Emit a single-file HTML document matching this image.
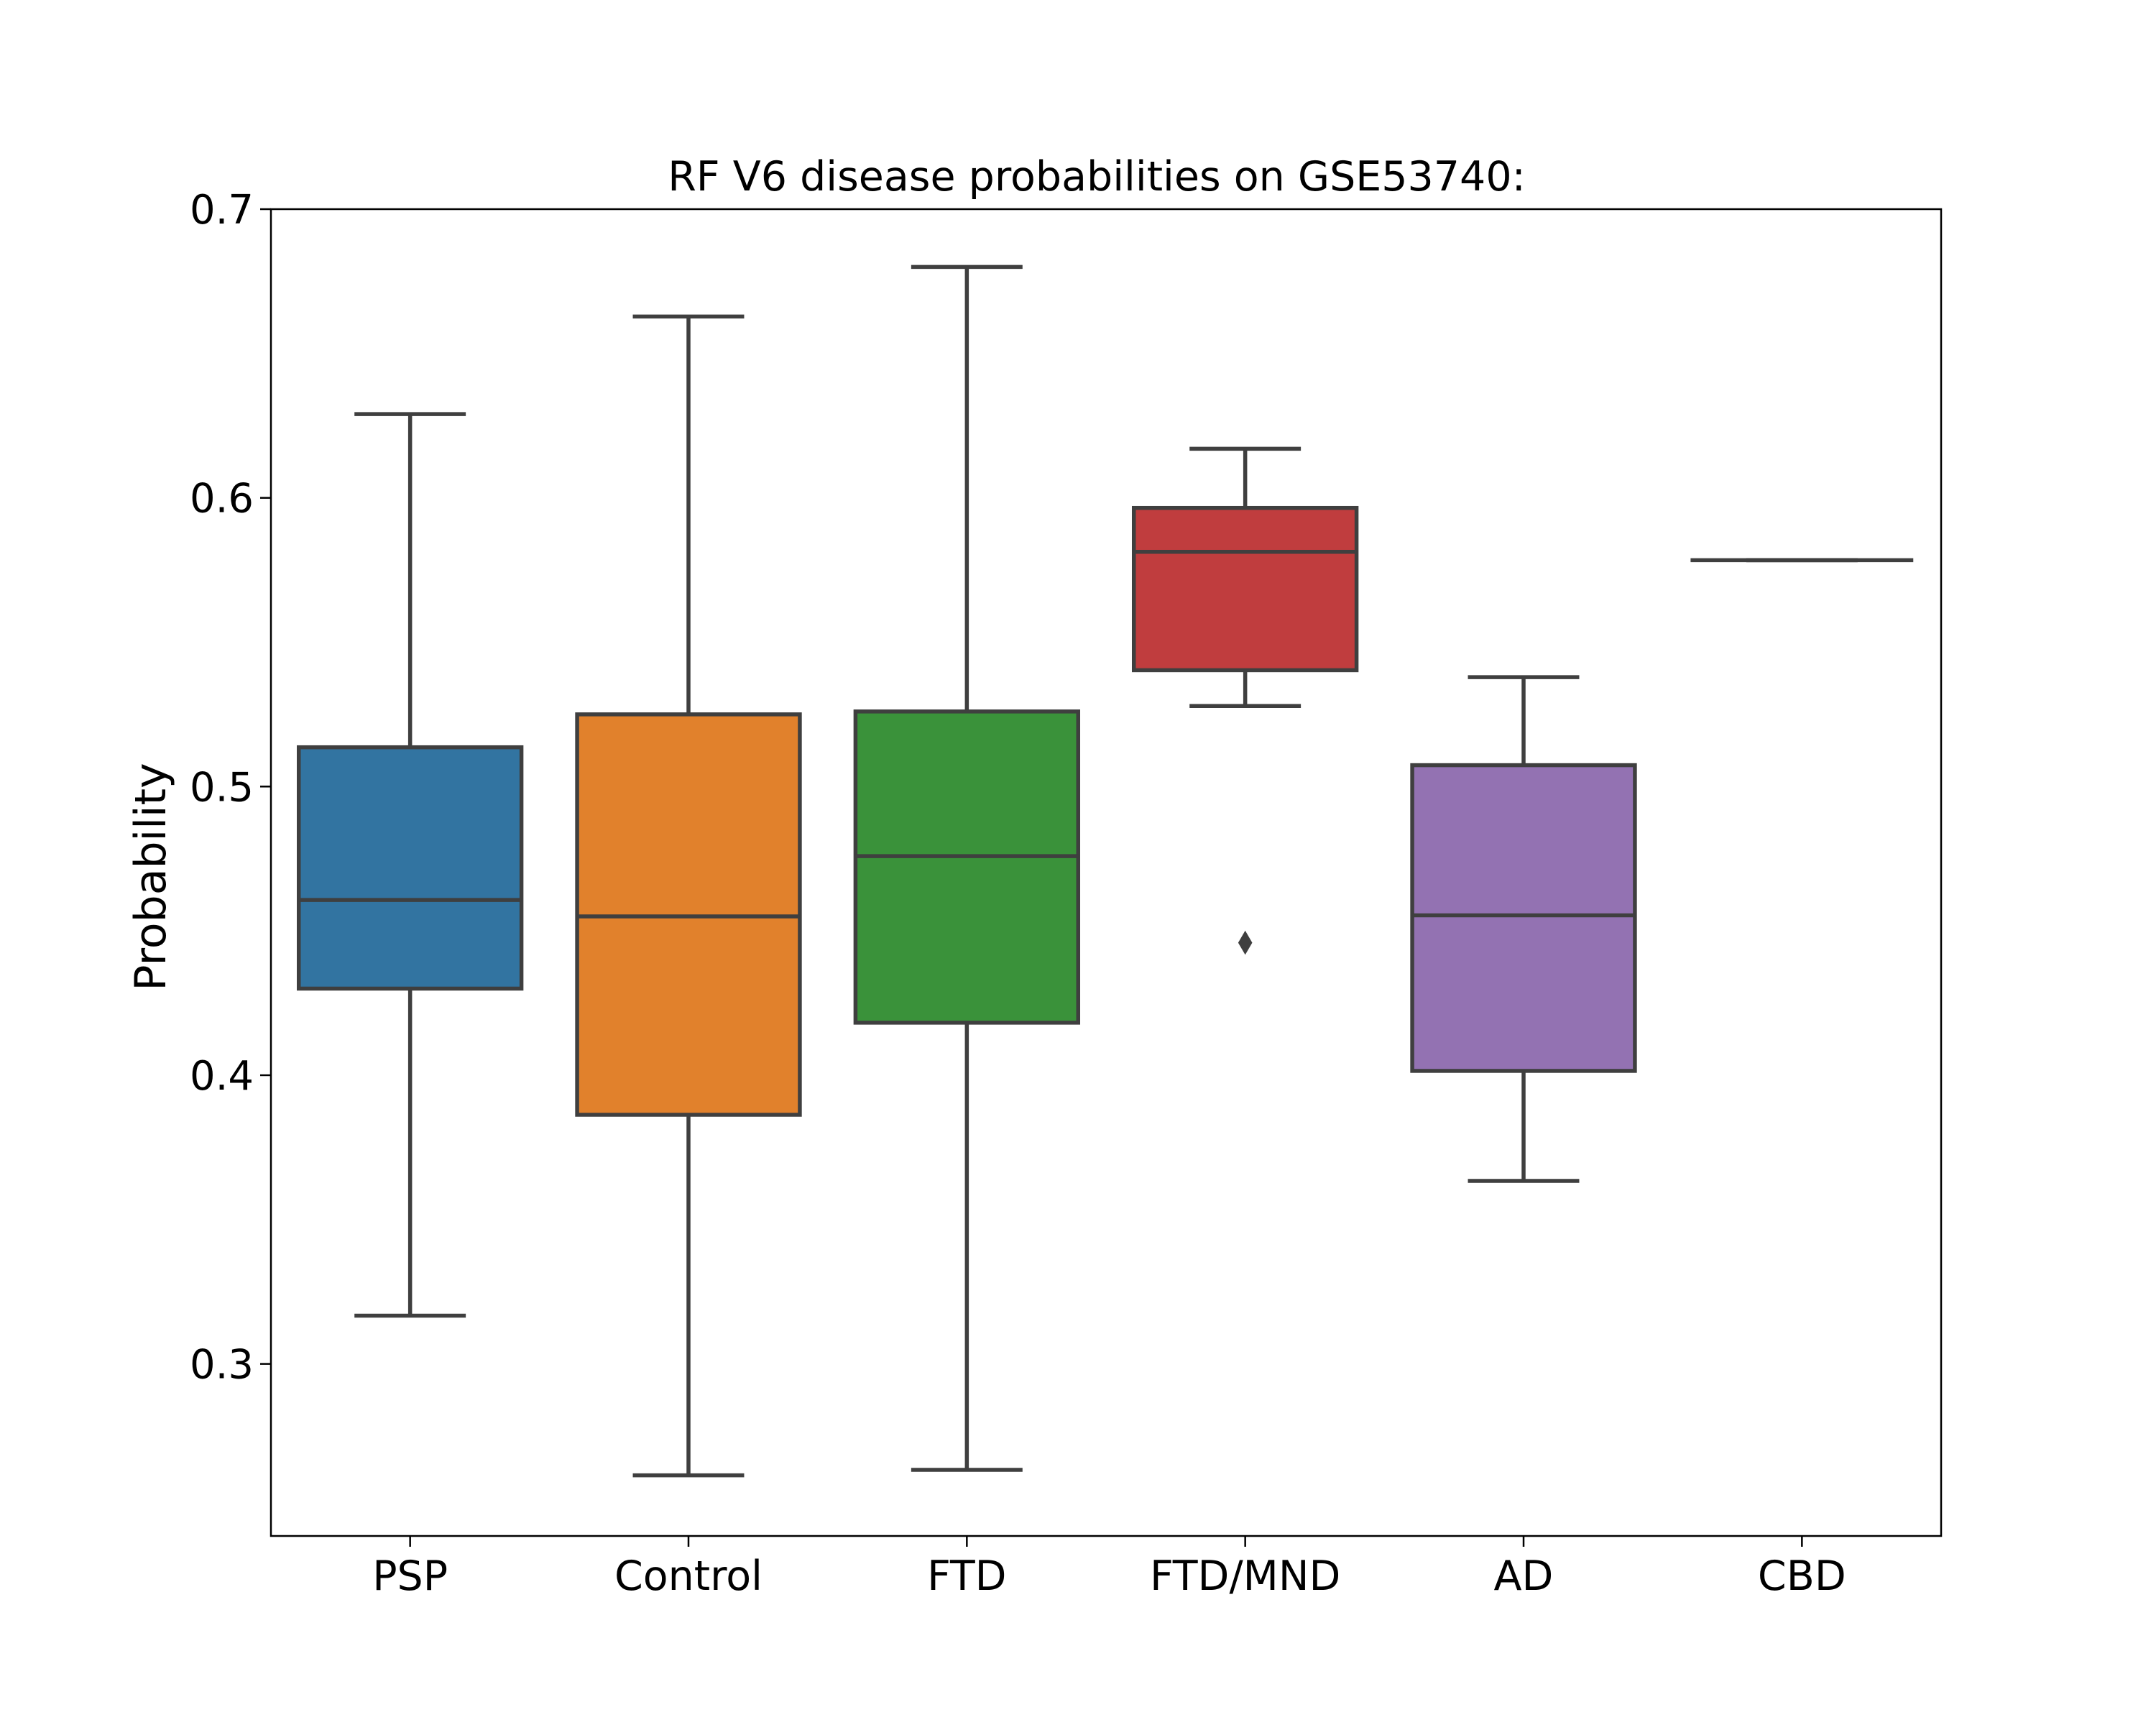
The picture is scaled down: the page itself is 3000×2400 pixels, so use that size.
<!DOCTYPE html>
<html><head><meta charset="utf-8"><style>
html,body{margin:0;padding:0;background:#fff}
svg{display:block}
text{font-family:"DejaVu Sans","Liberation Sans",sans-serif;fill:#000}
</style></head><body>
<svg id="chart" width="3000" height="2400" viewBox="0 0 3000 2400" xmlns="http://www.w3.org/2000/svg">
<rect x="0" y="0" width="3000" height="2400" fill="#fff"/>
<text x="1526" y="265" font-size="57" text-anchor="middle">RF V6 disease probabilities on GSE53740:</text>
<text transform="translate(230,1220) rotate(-90)" font-size="60" text-anchor="middle">Probability</text>
<g id="marks"></g>
<rect x="377" y="291" width="2324" height="1846" fill="none" stroke="#000" stroke-width="2.5"/>
</svg>
<script>
const categories = ["PSP","Control","FTD","FTD/MND","AD","CBD"];
const whiskerLow = [0.3167,0.2614,0.2633,0.5279,0.3634,0.5784];
const q1 = [0.430,0.3863,0.4182,0.5403,0.4015,0.5784];
const medians = [0.4607,0.455,0.4759,0.5813,0.4554,0.5784];
const q3 = [0.5136,0.525,0.526,0.5965,0.5074,0.5784];
const whiskerHigh = [0.629,0.6628,0.680,0.617,0.5379,0.5784];
const outliers = [[],[],[],[0.4459],[],[]];
const yTicks = [0.3,0.4,0.5,0.6,0.7];
const colors = ["#3274a1","#e1812c","#3a923a","#c03d3e","#9372b2","#8c613c"];

const L=377,R=2701,T=291,B=2137,yMin=0.2404,yMax=0.7;
const ns="http://www.w3.org/2000/svg";
const g=document.getElementById('marks');
const svg=document.getElementById('chart');
function y(v){return B-(v-yMin)/(yMax-yMin)*(B-T);}
const band=(R-L)/categories.length;
function x(i){return L+band*(i+0.5);}
function el(tag,attrs,parent){const e=document.createElementNS(ns,tag);for(const k in attrs)e.setAttribute(k,attrs[k]);(parent||g).appendChild(e);return e;}
const EC="#3f3f3f",LW=5.5,bw=band*0.8;

yTicks.forEach((t)=>{
  const tk=el('line',{x1:L-15,x2:L,y1:y(t),y2:y(t),stroke:'#000','stroke-width':2.5},svg);
  
  
  const tx=el('text',{x:L-24,y:y(t)+20,'font-size':56,'text-anchor':'end'},svg);
  tx.textContent=t.toFixed(1);
  
  
});
categories.forEach((c,i)=>{
  const cx=x(i);
  const tk=el('line',{x1:cx,x2:cx,y1:B,y2:B+15,stroke:'#000','stroke-width':2.5},svg);
  
  
  const tx=el('text',{x:cx,y:B+75,'font-size':57,'text-anchor':'middle'},svg);
  tx.textContent=c;
  
  

  const grp=el('g',{});
  
  
  const capW=bw/2;
  el('line',{x1:cx,x2:cx,y1:y(q3[i]),y2:y(whiskerHigh[i]),stroke:EC,'stroke-width':LW},grp);
  el('line',{x1:cx,x2:cx,y1:y(q1[i]),y2:y(whiskerLow[i]),stroke:EC,'stroke-width':LW},grp);
  el('line',{x1:cx-capW/2,x2:cx+capW/2,y1:y(whiskerHigh[i]),y2:y(whiskerHigh[i]),stroke:EC,'stroke-width':LW},grp);
  el('line',{x1:cx-capW/2,x2:cx+capW/2,y1:y(whiskerLow[i]),y2:y(whiskerLow[i]),stroke:EC,'stroke-width':LW},grp);
  const h=y(q1[i])-y(q3[i]);
  if(h>0.5){
    el('rect',{x:cx-bw/2,y:y(q3[i]),width:bw,height:h,fill:colors[i],stroke:EC,'stroke-width':LW},grp);
  }
  el('line',{x1:cx-bw/2,x2:cx+bw/2,y1:y(medians[i]),y2:y(medians[i]),stroke:EC,'stroke-width':LW},grp);
  outliers[i].forEach(o=>{
    const oy=y(o),s=14;
    const d=el('path',{d:`M${cx},${oy-s*1.2} L${cx+s*0.7},${oy} L${cx},${oy+s*1.2} L${cx-s*0.7},${oy} Z`,fill:EC},grp);
    
    
  });
});
</script>
</body></html>
